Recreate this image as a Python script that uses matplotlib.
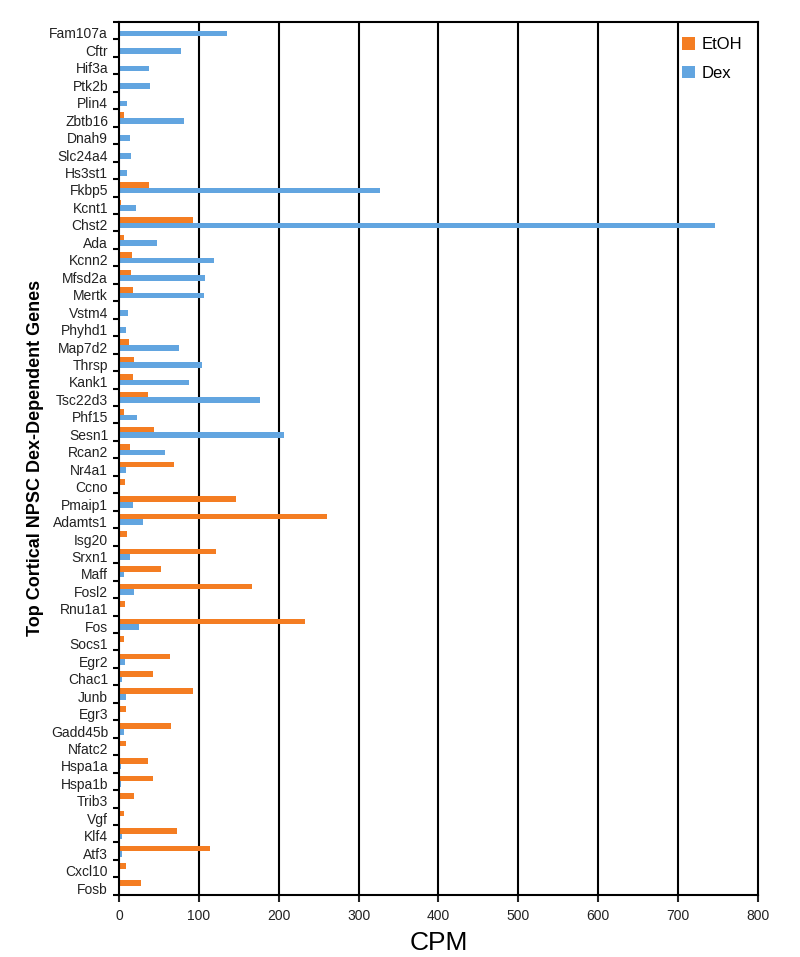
import matplotlib.pyplot as plt
import numpy as np

plt.rcParams['font.family'] = ['Liberation Sans', 'DejaVu Sans']

genes = ["Fam107a", "Cftr", "Hif3a", "Ptk2b", "Plin4", "Zbtb16", "Dnah9", "Slc24a4",
         "Hs3st1", "Fkbp5", "Kcnt1", "Chst2", "Ada", "Kcnn2", "Mfsd2a", "Mertk",
         "Vstm4", "Phyhd1", "Map7d2", "Thrsp", "Kank1", "Tsc22d3", "Phf15", "Sesn1",
         "Rcan2", "Nr4a1", "Ccno", "Pmaip1", "Adamts1", "Isg20", "Srxn1", "Maff",
         "Fosl2", "Rnu1a1", "Fos", "Socs1", "Egr2", "Chac1", "Junb", "Egr3",
         "Gadd45b", "Nfatc2", "Hspa1a", "Hspa1b", "Trib3", "Vgf", "Klf4", "Atf3",
         "Cxcl10", "Fosb"]

etoh = [0.5, 0.5, 1, 1, 0.5, 5.5, 1, 0.5, 0.5, 37, 2, 93, 6, 16, 15, 17,
        1, 1, 12.5, 18, 17, 36.5, 5.5, 44, 13.5, 69, 7.5, 146, 260, 10, 121, 52,
        167, 7.5, 233, 6, 64, 42, 92, 9, 65, 8.5, 36.5, 42, 18.5, 6.5, 72, 113.5,
        8, 27]

dex = [135, 77, 37, 38, 9.5, 81, 13.5, 14.5, 9.5, 327, 21, 746, 47, 119, 107, 106,
       11, 9, 75, 104, 87, 176, 22, 207, 57, 9, 0.5, 17, 30, 1.5, 14, 6.5,
       18, 0.5, 24.5, 0.5, 7, 4, 8, 1, 5.5, 0.5, 2.5, 2.5, 0.5, 0.5, 4, 3,
        0.5, 0.5]

y = np.arange(len(genes))
h = 0.32

fig = plt.figure(figsize=(8, 9.57), dpi=100)
ax = fig.add_axes([0.149, 0.065, 0.798, 0.912])

for gx in range(100, 800, 100):
    ax.axvline(gx, color='black', lw=1.5, zorder=1)

ax.barh(y - h / 2, etoh, height=h, color='#F47D22', label='EtOH', zorder=2)
ax.barh(y + h / 2, dex, height=h, color='#62A5E0', label='Dex', zorder=2)

ax.set_xlim(0, 800)
ax.set_ylim(len(genes) - 0.5, -0.5)
ax.set_xticks(range(0, 801, 100))
# labels sit a touch below the bar pair, as in the original
ax.set_yticks(y + 0.12)
ax.set_yticklabels(genes, fontsize=10, color='#222222')
ax.set_yticks(np.arange(-0.5, len(genes), 1), minor=True)
ax.tick_params(axis='y', which='major', length=0, pad=8)
ax.tick_params(axis='y', which='minor', length=4, width=1.5, direction='out')
ax.tick_params(axis='x', length=5, width=1.5, labelsize=10, colors='#222222', pad=5)

for s in ax.spines.values():
    s.set_linewidth(1.5)

ax.set_xlabel('CPM', fontsize=19, labelpad=6)
ax.set_ylabel('Top Cortical NPSC Dex-Dependent Genes', fontsize=13,
              fontweight='bold', labelpad=4)

ax.legend(loc='upper right', frameon=False, fontsize=12, handlelength=0.8,
          handleheight=0.8, handletextpad=0.4, labelspacing=0.8,
          borderaxespad=0.5)

fig.savefig('out.png', dpi=100)
